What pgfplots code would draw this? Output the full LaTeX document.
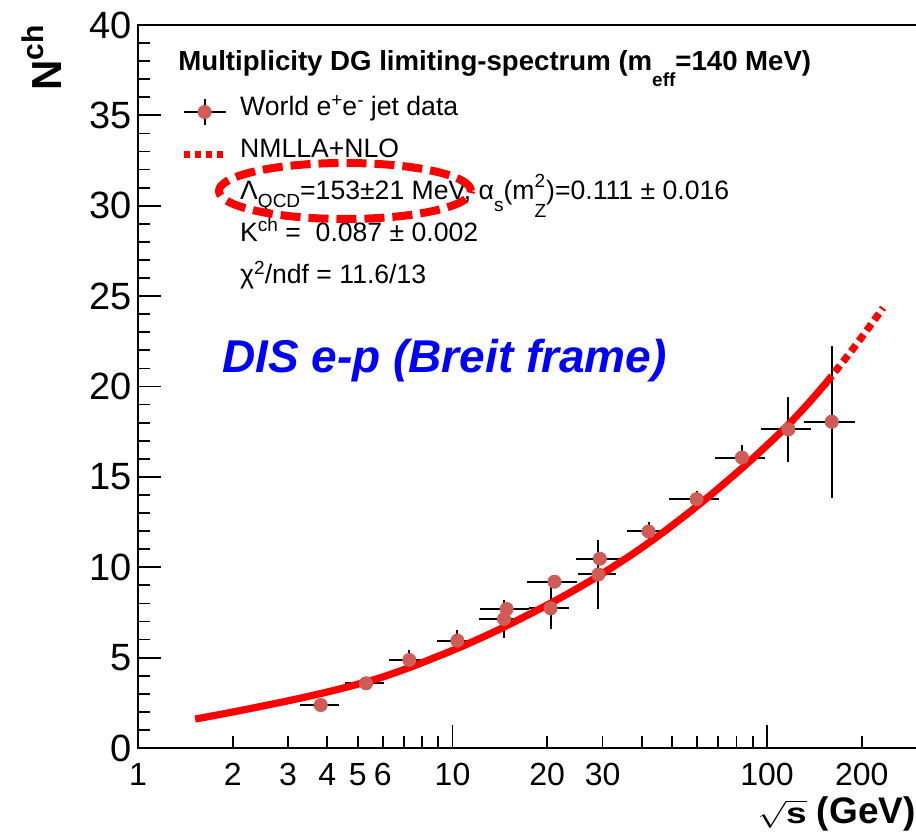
\documentclass[border=0pt]{standalone}
\usepackage{fontspec}
\setmainfont{Liberation Sans}
\usepackage{graphicx}
\usepackage{pgfplots}
\usepackage{pgfplotstable}
\pgfplotsset{compat=1.18}
\definecolor{rootred}{RGB}{255,0,0}
\definecolor{ptfill}{RGB}{208,92,88}
\definecolor{diablue}{RGB}{0,0,255}
\newcommand{\rsup}[2][4.5pt]{\raisebox{#1}{\fontsize{9.5}{10}\selectfont #2}}
\newcommand{\rsub}[2][4pt]{\raisebox{-#1}{\fontsize{9.5}{10}\selectfont #2}}

\pgfplotstableread{
x y ex ey
3.81 2.38 0.53 0.10
5.31 3.58 0.75 0.30
7.29 4.87 1.00 0.55
10.36 5.94 1.45 0.60
14.86 7.69 2.60 0.20
14.58 7.14 2.40 1.05
21.1 9.20 3.80 0.25
20.5 7.73 3.00 1.15
29.4 10.47 4.70 0.30
29.1 9.60 4.00 1.90
42.0 11.98 6.00 0.50
59.7 13.77 10.8 0.45
83.2 16.07 15.0 0.67
116.9 17.63 21.0 1.80
160.6 18.05 30.0 4.20
}\datatable

\pgfplotstableread{
x y
1.52 1.60
2 1.99
3 2.61
4 3.10
5 3.53
6 3.93
7.5 4.53
10 5.40
12 6.00
14.5 6.67
20 7.91
25 8.84
30 9.66
37 10.68
45 11.72
55 12.87
66 13.98
80 15.22
93 16.24
115 17.76
135 19.05
155 20.25
}\curvea

\pgfplotstableread{
x y
155 20.25
188 22.10
234 24.35
}\curveb

\begin{document}
\begin{tikzpicture}
\useasboundingbox (0,0) rectangle (458pt,415.5pt);
\begin{axis}[
  at={(69pt,41.5pt)}, anchor=south west,
  scale only axis, width=390pt, height=361.5pt,
  xmode=log, xmin=1, xmax=302, ymin=0, ymax=40,
  axis line style={line width=1pt},
  every tick/.style={black, line width=0.9pt},
  major tick length=11.5pt, minor tick length=6pt,
  xtick pos=bottom, ytick pos=left,
  xtick={1,10,100}, xticklabels={1,10,100},
  minor xtick={2,3,4,5,6,7,8,9,20,30,40,50,60,70,80,90,200,300},
  extra x ticks={2,3,4,5,6,20,30,200},
  extra x tick labels={2,3,4,5,6,20,30,200},
  extra x tick style={major tick length=0pt},
  ytick={0,5,10,15,20,25,30,35,40},
  yticklabels={0,5,10,15,20,25,30,35,40},
  minor y tick num=4,
  x tick label style={font=\fontsize{16}{18}\selectfont, inner sep=0pt, yshift=-7.5pt},
  y tick label style={font=\fontsize{19}{21}\selectfont, inner sep=0pt, xshift=-3pt},
  /pgf/number format/assume math mode=true,
  legend cell align=left,
  legend style={
    draw=none, fill=none,
    at={(0.054,0.9087)}, anchor=north west,
    inner sep=0pt, outer sep=0pt,
    row sep=0pt, column sep=0pt,
    font=\fontsize{13.3}{16}\selectfont,
    nodes={inner sep=0pt, text height=12pt, text depth=9pt},
  },
]
\addplot[only marks, mark=*, mark size=3.3pt,
  mark options={fill=ptfill, draw=ptfill},
  legend image code/.code={
    \draw[black, line width=1pt] (0pt,0pt) -- (21pt,0pt);
    \draw[black, line width=1pt] (10.5pt,-6.5pt) -- (10.5pt,6.5pt);
    \fill[ptfill] (10.5pt,0pt) circle (3.3pt);
    \path (26.5pt,0pt);
  },
  error bars/.cd, x dir=both, x explicit, y dir=both, y explicit,
  error bar style={line width=1pt, black}, error mark=none]
  table[x=x, y=y, x error=ex, y error=ey] {\datatable};
\addlegendentry{World e\rsup{+}e\rsup{-} jet data}

\addplot[rootred, line width=3.6pt, smooth, tension=0.5,
  legend image code/.code={
    \draw[rootred, line width=3.5pt, dash pattern=on 3pt off 2.5pt] (0pt,0pt) -- (21pt,0pt);
    \path (26.5pt,0pt);
  }]
  table[x=x, y=y] {\curvea};
\addlegendentry{NMLLA+NLO}

\addplot[forget plot, rootred, line width=3.6pt, smooth, dash pattern=on 4pt off 2.5pt]
  table[x=x, y=y] {\curveb};

\addlegendimage{empty legend}
\addlegendentry{Λ\rsub[4pt]{QCD}=153±21 MeV, α\rsub[6pt]{s}(m\rlap{\rsup[6pt]{2}}\rsub[9pt]{Z})=0.111 ± 0.016}
\addlegendimage{empty legend}
\addlegendentry{K\rsup[5pt]{ch} =~~0.087 ± 0.002}
\addlegendimage{empty legend}
\addlegendentry{χ\rsup[4.5pt]{2}/ndf = 11.6/13}
\end{axis}

\node[anchor=base west, inner sep=0pt, font=\fontsize{13.8}{16}\selectfont\bfseries]
  at (89pt,380pt) {Multiplicity DG limiting-spectrum (m\raisebox{-8pt}{\fontsize{9.5}{10}\selectfont eff}=140 MeV)};

\draw[rootred, line width=4pt, dash pattern=on 10pt off 4pt] (172.5pt,320pt) ellipse [x radius=63pt, y radius=14pt];

\node[anchor=base west, inner sep=0pt, text=diablue, font=\fontsize{23}{26}\selectfont\bfseries\itshape]
  at (110.85pt,229pt) {DIS e-p (Breit frame)};

\node[anchor=base east, inner sep=0pt, rotate=90, font=\fontsize{21}{24}\selectfont\bfseries]
  at (30.85pt,403pt) {N\raisebox{9pt}{\fontsize{15}{16}\selectfont\bfseries ch}};

\node[anchor=base east, inner sep=0pt, font=\fontsize{18.5}{20}\selectfont\bfseries]
  at (458pt,4pt) {\scalebox{1}[0.78]{$\sqrt{\mbox{\bfseries s}}$} (GeV)};
\end{tikzpicture}
\end{document}
